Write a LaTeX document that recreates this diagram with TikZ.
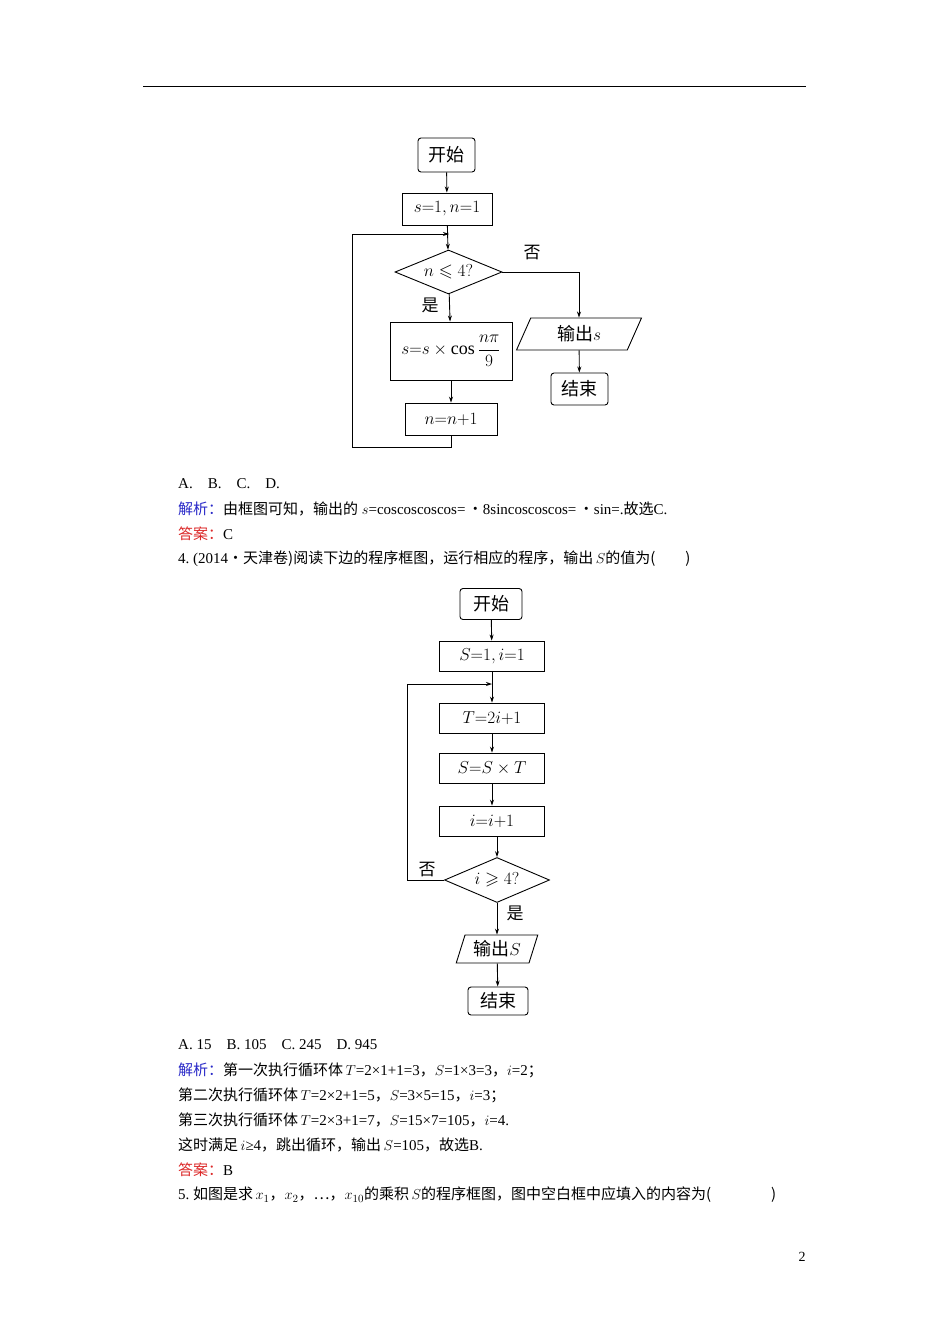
\documentclass[tikz,border=0pt]{standalone}
\usepackage{amsmath,amssymb}
\usepackage{fontspec}
\setmainfont{Liberation Serif}
\newfontfamily\cjk{Noto Sans CJK SC}
\usetikzlibrary{shapes.geometric,arrows.meta}
\newcommand{\cj}[1]{{\cjk #1}}
\definecolor{ansblue}{RGB}{40,40,200}
\definecolor{ansred}{RGB}{220,40,40}
\begin{document}
\begin{tikzpicture}[x=1pt,y=-1pt,
  box/.style={draw,line width=0.9pt,inner sep=1pt,font=\fontsize{18}{20}\selectfont},
  term/.style={box,rounded corners=3pt},
  dec/.style={box,shape=diamond,aspect=2.4,inner sep=0pt},
  io/.style={box,shape=trapezium,trapezium left angle=70,trapezium right angle=110,trapezium stretches=true},
  arr/.style={line width=0.9pt,-{Stealth[length=6pt,width=4pt]}},
  lbl/.style={font=\fontsize{17}{19}\selectfont\cjk},
  txt/.style={anchor=west,inner sep=0pt,font=\fontsize{15}{18}\selectfont}]
\useasboundingbox[fill=white] (0,0) rectangle (950,1344);
\draw[line width=0.8pt] (143,86) -- (806,86);
% chart 1
\node[term,minimum width=57pt,minimum height=34pt] (a1) at (446.5,155) {\cj{开始}};
\node[box,minimum width=90pt,minimum height=32pt] (b1) at (447,209) {$s{=}1,n{=}1$};
\coordinate (j1) at (449,234);
\node[dec,minimum width=107pt,minimum height=44pt] (d1) at (448.5,272) {$n\leqslant 4?$};
\node[box,minimum width=122pt,minimum height=58pt] (p1) at (451,351) {$s{=}s\times\cos\dfrac{n\pi}{9}$};
\node[box,minimum width=92pt,minimum height=32pt] (n1) at (451,419) {$n{=}n{+}1$};
\node[io,minimum width=125pt,minimum height=32pt] (o1) at (579,334) {\cj{输出}$s$};
\node[term,minimum width=57pt,minimum height=32pt] (e1) at (579.5,389) {\cj{结束}};
\coordinate (c1) at (352,447);
\draw[arr] (a1) -- (b1);
\draw[arr] (b1) -- (d1);
\draw[arr] (d1) -- (p1);
\draw[arr] (p1) -- (n1);
\draw[arr] (n1.south) |- (c1) |- (j1);
\draw[arr] (d1.east) -| (o1.north);
\draw[arr] (o1) -- (e1);
\node[lbl] (y1) at (430,305) {是};
\node[lbl] (f1) at (532,253) {否};
% text block 1
\node[txt] (t1) at (178,484) {A.\quad B.\quad C.\quad D.};
\node[txt] (t2) at (178,509) {\textcolor{ansblue}{\cj{解析：}}\cj{由框图可知，输出的} $s$=coscoscoscos=\,\cj{・}8sincoscoscos=\,\cj{・}sin=.\cj{故选}C.};
\node[txt] (t3) at (178,534) {\textcolor{ansred}{\cj{答案：}}C};
\node[txt] (t4) at (178,559) {4.\ (2014\cj{・天津卷)阅读下边的程序框图，运行相应的程序，输出}\,$S$\cj{的值为(}\qquad\cj{)}};
% chart 2
\node[term,minimum width=62pt,minimum height=31pt] (a2) at (491,604) {\cj{开始}};
\node[box,minimum width=105pt,minimum height=30pt] (b2) at (492,656) {$S{=}1,i{=}1$};
\coordinate (j2) at (492,684);
\node[box,minimum width=105pt,minimum height=30pt] (t2b) at (492,718) {$T{=}2i{+}1$};
\node[box,minimum width=105pt,minimum height=30pt] (s2) at (492,768) {$S{=}S\times T$};
\node[box,minimum width=105pt,minimum height=30pt] (i2) at (492,821) {$i{=}i{+}1$};
\node[dec,minimum width=105pt,minimum height=45pt] (d2) at (497,880) {$i\geqslant 4?$};
\node[io,minimum width=82pt,minimum height=28pt] (o2) at (497,949) {\cj{输出}$S$};
\node[term,minimum width=60pt,minimum height=28pt] (e2) at (498,1001) {\cj{结束}};
\coordinate (c2) at (407,880);
\draw[arr] (a2) -- (b2);
\draw[arr] (b2) -- (t2b);
\draw[arr] (t2b) -- (s2);
\draw[arr] (s2) -- (i2);
\draw[arr] (i2.south -| d2.north) -- (d2.north);
\draw[arr] (d2) -- (o2);
\draw[arr] (o2) -- (e2);
\draw[arr] (d2.west) -- (c2) |- (j2);
\node[lbl] (f2) at (427,870) {否};
\node[lbl] (y2) at (515,913) {是};
% text block 2
\node[txt] (u1) at (178,1045) {A.\ 15\quad B.\ 105\quad C.\ 245\quad D.\ 945};
\node[txt] (u2) at (178,1070) {\textcolor{ansblue}{\cj{解析：}}\cj{第一次执行循环体}\,$T$=2×1+1=3\cj{，}$S$=1×3=3\cj{，}$i$=2\cj{；}};
\node[txt] (u3) at (178,1095) {\cj{第二次执行循环体}\,$T$=2×2+1=5\cj{，}$S$=3×5=15\cj{，}$i$=3\cj{；}};
\node[txt] (u4) at (178,1120) {\cj{第三次执行循环体}\,$T$=2×3+1=7\cj{，}$S$=15×7=105\cj{，}$i$=4.};
\node[txt] (u5) at (178,1145) {\cj{这时满足}\,$i$≥4\cj{，跳出循环，输出}\,$S$=105\cj{，故选}B.};
\node[txt] (u6) at (178,1170) {\textcolor{ansred}{\cj{答案：}}B};
\node[txt] (u7) at (178,1195) {5.\ \cj{如图是求}\,$x_1$\cj{，}$x_2$\cj{，…，}$x_{10}$\cj{的乘积}\,$S$\cj{的程序框图，图中空白框中应填入的内容为(}\qquad\qquad\cj{)}};
\node[font=\fontsize{14}{16}\selectfont] (pg) at (802,1257) {2};
\end{tikzpicture}
\end{document}
